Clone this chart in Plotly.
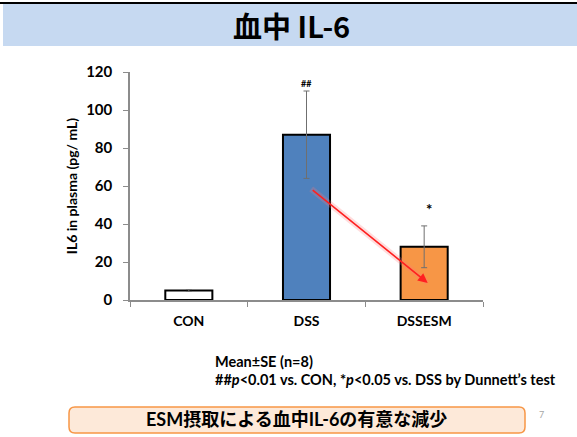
import plotly.graph_objects as go

# ---- data ----
categories = ["CON", "DSS", "DSSESM"]
means = [5, 87, 28]
se = [0.5, 23, 11]
bar_colors = ["#ffffff", "#4f81bd", "#f79646"]
sig_labels = ["", "##", "*"]
y_ticks = [0, 20, 40, 60, 80, 100, 120]

title_text = "血中 IL-6"
y_title = "IL6 in plasma (pg/ mL)"
note_line1 = "Mean±SE (n=8)"
note_line2 = "##<i>p</i><0.01 vs. CON, *<i>p</i><0.05 vs. DSS by Dunnett’s test"
box_text = "ESM摂取による血中IL-6の有意な減少"
page_no = "7"

# arrow from DSS bar to DSSESM bar (data coordinates)
arrow_tail = (1.04, 58.5)
arrow_head = (2.03, 9.0)

W, H = 577, 437
L, R, T, B = 130, 94, 72, 137
PW = W - L - R
PH = H - T - B

def px(x):
    return (x - L) / PW

def py(y):
    return (H - B - y) / PH

FONT = "Lato, 'Noto Sans CJK JP', sans-serif"

fig = go.Figure()
fig.add_trace(go.Bar(
    x=categories, y=means, width=0.4,
    marker=dict(color=bar_colors, line=dict(color="#000000", width=2)),
    error_y=dict(type="data", array=se, visible=True, color="#6f6f6f",
                 thickness=1, width=3),
    showlegend=False, hoverinfo="skip",
))

annotations = []
for i, lab in enumerate(sig_labels):
    if lab == "##":
        annotations.append(dict(
            x=i, y=means[i] + se[i] + 4, xref="x", yref="y",
            text="<b>%s</b>" % lab, showarrow=False, xanchor="center", yanchor="middle",
            font=dict(family=FONT, size=9, color="#000")))
    elif lab:
        annotations.append(dict(
            x=i + 0.04, y=means[i] + se[i] + 9, xref="x", yref="y",
            text="<b>%s</b>" % lab, showarrow=False, xanchor="center", yanchor="middle",
            font=dict(family=FONT, size=15, color="#000")))

# arrow
annotations.append(dict(
    x=arrow_head[0], y=arrow_head[1], ax=arrow_tail[0], ay=arrow_tail[1],
    xref="x", yref="y", axref="x", ayref="y", text="", showarrow=True,
    arrowhead=2, arrowsize=1.2, arrowwidth=1.6, arrowcolor="#ff2020", standoff=0))

def note(x, y, text, size, xanchor="center", color="#000", family=FONT):
    return dict(x=px(x), y=py(y), xref="paper", yref="paper", xanchor=xanchor,
                yanchor="middle", text=text, showarrow=False,
                font=dict(family=family, size=size, color=color))

annotations += [
    note(291, 25, "<b>%s</b>" % title_text, 29, family="'Noto Sans CJK JP', Lato, sans-serif"),
    note(213, 361, "<b>%s</b>" % note_line1, 14.5, xanchor="left"),
    note(213, 379, "<b>%s</b>" % note_line2, 14.5, xanchor="left"),
    note(296, 419, "<b>%s</b>" % box_text, 18),
    note(541, 414, page_no, 9, color="#a6a6a6"),
]

# rounded rect path
def rounded(x0, y0, x1, y1, r):
    rx = r / PW
    ry = r / PH
    X0, X1 = px(x0), px(x1)
    Y0, Y1 = py(y0), py(y1)  # Y0 top, Y1 bottom
    return (f"M {X0+rx},{Y0} L {X1-rx},{Y0} Q {X1},{Y0} {X1},{Y0-ry} "
            f"L {X1},{Y1+ry} Q {X1},{Y1} {X1-rx},{Y1} L {X0+rx},{Y1} "
            f"Q {X0},{Y1} {X0},{Y1+ry} L {X0},{Y0-ry} Q {X0},{Y0} {X0+rx},{Y0} Z")

shapes = [
    # title band
    dict(type="rect", xref="paper", yref="paper", x0=px(3), x1=px(577), y0=py(46), y1=py(4),
         fillcolor="#c6d9f1", line=dict(width=0), layer="below"),
    dict(type="line", xref="paper", yref="paper", x0=px(0), x1=px(577), y0=py(3), y1=py(3),
         line=dict(color="#000", width=2)),
    # bottom box
    dict(type="path", xref="paper", yref="paper", path=rounded(69, 407, 525, 433, 6),
         fillcolor="#fde9d9", line=dict(color="#f79646", width=1.5), layer="below"),
    # arrow glow
    dict(type="line", xref="x", yref="y", x0=arrow_tail[0], y0=arrow_tail[1],
         x1=arrow_head[0], y1=arrow_head[1],
         line=dict(color="rgba(255,120,120,0.25)", width=6)),
]

fig.update_layout(
    width=W, height=H, autosize=False,
    margin=dict(l=L, r=R, t=T, b=B, pad=0),
    paper_bgcolor="#ffffff", plot_bgcolor="rgba(0,0,0,0)",
    annotations=annotations, shapes=shapes,
    font=dict(family=FONT, color="#000"),
)
fig.update_xaxes(
    type="category", showline=True, linecolor="#8c8c8c", linewidth=1.5,
    ticks="outside", tickson="boundaries", ticklen=5, tickcolor="#8c8c8c",
    tickfont=dict(family=FONT, size=14, color="#000"), ticklabelstandoff=7,
    tickvals=categories, ticktext=["<b>%s</b>" % c for c in categories],
    showgrid=False, zeroline=False, range=[-0.5, 2.5],
)
fig.update_yaxes(
    range=[0, 120], tickvals=y_ticks, ticktext=["<b>%d</b>" % v for v in y_ticks],
    showline=True, linecolor="#8c8c8c", linewidth=1.5,
    ticks="outside", ticklen=5, tickcolor="#8c8c8c",
    tickfont=dict(family=FONT, size=15, color="#000"), ticklabelstandoff=8,
    title=dict(text="<b>%s</b>" % y_title, font=dict(family=FONT, size=14, color="#000"),
               standoff=5),
    showgrid=False, zeroline=False,
)

fig.write_html("out.html", config={"displayModeBar": False},
               post_script="document.body.style.margin='0';document.body.style.overflow='hidden';")
